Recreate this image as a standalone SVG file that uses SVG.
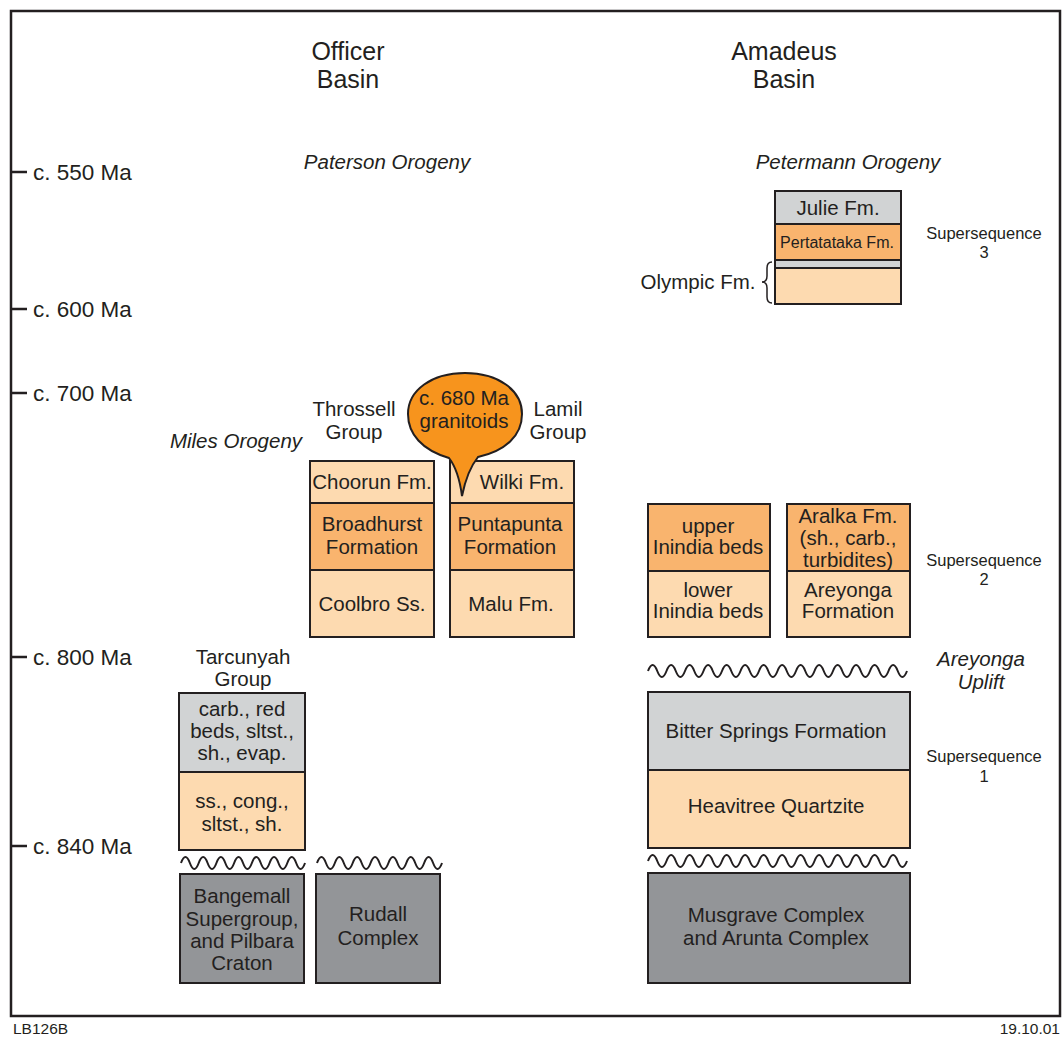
<svg xmlns="http://www.w3.org/2000/svg" width="1063" height="1039" viewBox="0 0 1063 1039">
<style>
text{font-family:"Liberation Sans",Arial,sans-serif;fill:#231F20;text-anchor:middle}
.ax{font-size:22.5px;text-anchor:start}
.t{font-size:20.5px}
.h{font-size:25px}
.i{font-size:20.5px;font-style:italic}
.s{font-size:16.5px}
.sm{font-size:15.5px}
.b{stroke:#231F20;stroke-width:2}
.lt{fill:#FDDAB0}
.md{fill:#F9B46E}
.gy{fill:#D1D3D4}
.dk{fill:#939598}
.w{fill:none;stroke:#231F20;stroke-width:2}
</style>
<rect x="0" y="0" width="1063" height="1039" fill="#fff"/>
<rect x="11" y="11" width="1049" height="1005" fill="none" stroke="#231F20" stroke-width="2.5"/>
<g id="axis">
<path d="M11 172H27M11 309H27M11 393H27M11 657H27M11 846H27" stroke="#231F20" stroke-width="2.5"/>
<text class="ax" x="33" y="180">c. 550 Ma</text>
<text class="ax" x="33" y="317">c. 600 Ma</text>
<text class="ax" x="33" y="401">c. 700 Ma</text>
<text class="ax" x="33" y="665">c. 800 Ma</text>
<text class="ax" x="33" y="854">c. 840 Ma</text>
</g>
<g id="titles">
<text class="h" x="348" y="60">Officer</text>
<text class="h" x="348" y="88">Basin</text>
<text class="h" x="784" y="60">Amadeus</text>
<text class="h" x="784" y="88">Basin</text>
<text class="i" x="387" y="169">Paterson Orogeny</text>
<text class="i" x="848" y="169">Petermann Orogeny</text>
<text class="i" x="236" y="448">Miles Orogeny</text>
<text class="i" x="981" y="666">Areyonga</text>
<text class="i" x="981" y="689">Uplift</text>
<text class="s" x="984" y="239">Supersequence</text>
<text class="s" x="984" y="258">3</text>
<text class="s" x="984" y="566">Supersequence</text>
<text class="s" x="984" y="585">2</text>
<text class="s" x="984" y="762">Supersequence</text>
<text class="s" x="984" y="782">1</text>
<text class="sm" x="13" y="1034" style="text-anchor:start">LB126B</text>
<text class="sm" x="1060" y="1034" style="text-anchor:end">19.10.01</text>
</g>
<g id="throssell">
<text class="t" x="354" y="416">Throssell</text>
<text class="t" x="354" y="439">Group</text>
<rect class="b lt" x="310" y="461" width="124" height="42"/>
<rect class="b md" x="310" y="503" width="124" height="67"/>
<rect class="b lt" x="310" y="570" width="124" height="67"/>
<text class="t" x="372" y="489">Choorun Fm.</text>
<text class="t" x="372" y="531">Broadhurst</text>
<text class="t" x="372" y="554">Formation</text>
<text class="t" x="372" y="611">Coolbro Ss.</text>
</g>
<g id="lamil">
<text class="t" x="558" y="416">Lamil</text>
<text class="t" x="558" y="439">Group</text>
<rect class="b lt" x="450" y="461" width="124" height="42"/>
<rect class="b md" x="450" y="503" width="124" height="67"/>
<rect class="b lt" x="450" y="570" width="124" height="67"/>
<text class="t" x="522" y="489">Wilki Fm.</text>
<text class="t" x="510" y="531">Puntapunta</text>
<text class="t" x="510" y="554">Formation</text>
<text class="t" x="511" y="611">Malu Fm.</text>
</g>
<g id="granitoids">
<path d="M462 496C460 481 456 467 449 458C422 450 408 434 408 414C408 390 432 373 465 373C498 373 522 390 522 414C522 436 505 451 478 457C470 467 465 481 462 496Z" fill="#F7941D" stroke="#231F20" stroke-width="2"/>
<text class="t" x="464" y="405">c. 680 Ma</text>
<text class="t" x="464" y="428">granitoids</text>
</g>
<g id="tarcunyah">
<text class="t" x="243" y="664">Tarcunyah</text>
<text class="t" x="243" y="686">Group</text>
<rect class="b gy" x="179" y="693" width="126" height="79"/>
<rect class="b lt" x="179" y="772" width="126" height="78"/>
<text class="t" x="242" y="716">carb., red</text>
<text class="t" x="242" y="738">beds, sltst.,</text>
<text class="t" x="242" y="760">sh., evap.</text>
<text class="t" x="242" y="808">ss., cong.,</text>
<text class="t" x="242" y="831">sltst., sh.</text>
</g>
<g id="bangemall">
<rect class="b dk" x="180" y="874" width="124" height="109"/>
<text class="t" x="242" y="903">Bangemall</text>
<text class="t" x="242" y="926">Supergroup,</text>
<text class="t" x="242" y="948">and Pilbara</text>
<text class="t" x="242" y="970">Craton</text>
</g>
<g id="rudall">
<rect class="b dk" x="316" y="874" width="124" height="109"/>
<text class="t" x="378" y="921">Rudall</text>
<text class="t" x="378" y="945">Complex</text>
</g>
<g id="julie">
<rect class="b gy" x="775" y="191" width="126" height="33"/>
<rect class="b md" x="775" y="224" width="126" height="36"/>
<rect class="b gy" x="775" y="260" width="126" height="8"/>
<rect class="b lt" x="775" y="268" width="126" height="36"/>
<text class="t" x="838" y="215">Julie Fm.</text>
<text x="837" y="248" style="font-size:16px">Pertatataka Fm.</text>
<text class="t" x="698" y="289">Olympic Fm.</text>
<path d="M772 262q-5 0-5 6v8q0 6-5 6q5 0 5 6v9q0 6 5 6" fill="none" stroke="#231F20" stroke-width="1.5"/>
</g>
<g id="inindia">
<rect class="b md" x="648" y="504" width="122" height="67"/>
<rect class="b lt" x="648" y="571" width="122" height="66"/>
<text class="t" x="708" y="533">upper</text>
<text class="t" x="708" y="554">Inindia beds</text>
<text class="t" x="708" y="597">lower</text>
<text class="t" x="708" y="618">Inindia beds</text>
</g>
<g id="aralka">
<rect class="b md" x="787" y="504" width="123" height="67"/>
<rect class="b lt" x="787" y="571" width="123" height="66"/>
<text class="t" x="848" y="523">Aralka Fm.</text>
<text class="t" x="848" y="545">(sh., carb.,</text>
<text class="t" x="848" y="567">turbidites)</text>
<text class="t" x="848" y="597">Areyonga</text>
<text class="t" x="848" y="618">Formation</text>
</g>
<g id="bitter">
<rect class="b gy" x="648" y="692" width="262" height="78"/>
<rect class="b lt" x="648" y="770" width="262" height="78"/>
<text class="t" x="776" y="738">Bitter Springs Formation</text>
<text class="t" x="776" y="813">Heavitree Quartzite</text>
</g>
<g id="musgrave">
<rect class="b dk" x="648" y="873" width="262" height="110"/>
<text class="t" x="776" y="922">Musgrave Complex</text>
<text class="t" x="776" y="945">and Arunta Complex</text>
</g>
<g id="connectors">
<path class="w" d="M181 863q4.43 -12 8.86 0t8.86 0t8.86 0t8.86 0t8.86 0t8.86 0t8.86 0t8.86 0t8.86 0t8.86 0t8.86 0t8.86 0t8.86 0t8.86 0"/>
<path class="w" d="M317 863q4.46 -12 8.93 0t8.93 0t8.93 0t8.93 0t8.93 0t8.93 0t8.93 0t8.93 0t8.93 0t8.93 0t8.93 0t8.93 0t8.93 0t8.93 0"/>
<path class="w" d="M648 671q4.62 -12 9.25 0t9.25 0t9.25 0t9.25 0t9.25 0t9.25 0t9.25 0t9.25 0t9.25 0t9.25 0t9.25 0t9.25 0t9.25 0t9.25 0t9.25 0t9.25 0t9.25 0t9.25 0t9.25 0t9.25 0t9.25 0t9.25 0t9.25 0t9.25 0t9.25 0t9.25 0t9.25 0t9.25 0"/>
<path class="w" d="M648 861q4.62 -12 9.25 0t9.25 0t9.25 0t9.25 0t9.25 0t9.25 0t9.25 0t9.25 0t9.25 0t9.25 0t9.25 0t9.25 0t9.25 0t9.25 0t9.25 0t9.25 0t9.25 0t9.25 0t9.25 0t9.25 0t9.25 0t9.25 0t9.25 0t9.25 0t9.25 0t9.25 0t9.25 0t9.25 0"/>
</g>
</svg>
